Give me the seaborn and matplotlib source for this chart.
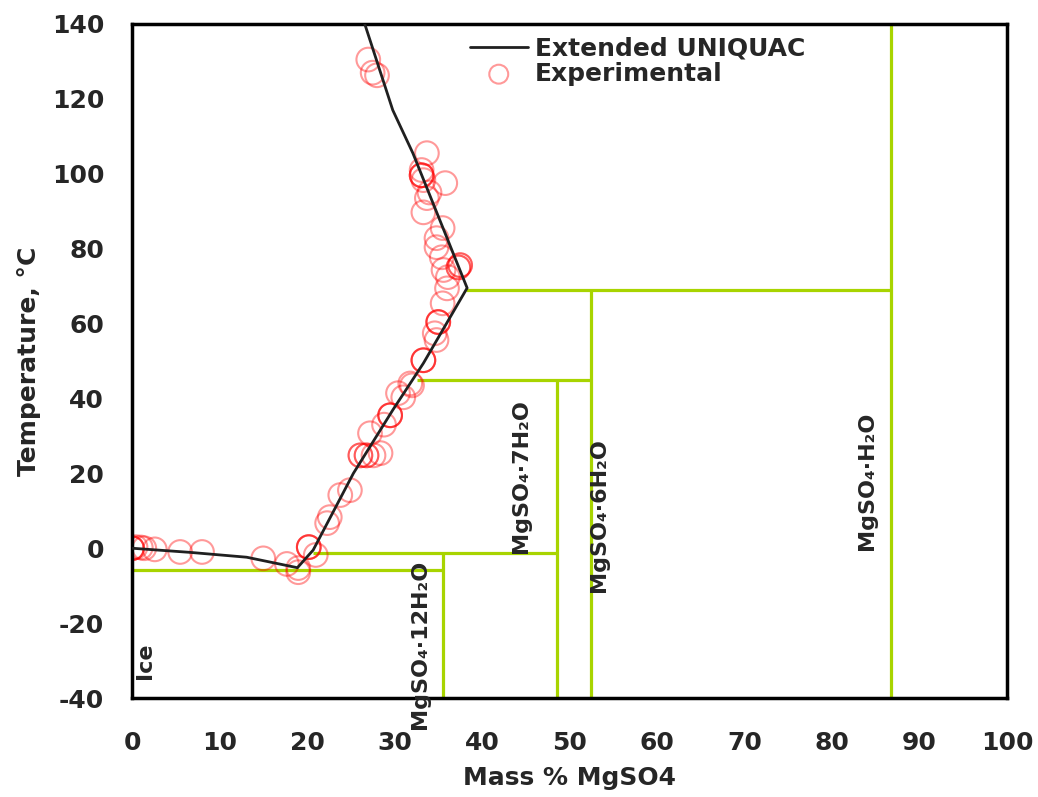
import numpy as np
import pandas as pd
import matplotlib
matplotlib.use('Agg')
import matplotlib.pyplot as plt
import seaborn as sns

sns.set_style('white')
plt.rcParams['font.family'] = ['DejaVu Sans']
plt.rcParams['font.weight'] = 'bold'
plt.rcParams['font.size'] = 18
plt.rcParams['axes.unicode_minus'] = False

# modelo Extended UNIQUAC
line_x = [0, 6.6, 13.1, 18.9, 20.7, 25.3, 29.8, 33.3, 38.3, 32.1, 29.8, 26.6]
line_y = [0, -1.1, -2.4, -5.2, -0.5, 20, 36.9, 49.4, 69.5, 105.5, 117, 140]

# datos experimentales (algunos repetidos)
exp_x = [0, 0, 0, 0.4, 1.0, 1.4, 2.6, 5.5, 8.0, 15.0, 17.7, 19.0, 19.0,
         20.2, 20.2, 20.2, 21.0, 22.3, 22.6, 23.8, 24.9, 26.1, 26.1, 26.8, 26.8,
         27.6, 28.4, 27.2, 28.8, 29.5, 29.5, 29.5, 30.4, 31.0, 32.0, 31.8,
         33.3, 33.3, 33.3, 34.8, 34.6, 35.0, 35.0, 35.0, 35.5, 36.0, 36.1, 35.6,
         37.3, 37.3, 37.5, 37.5, 35.4, 34.8, 34.8, 35.5, 33.3, 33.7, 34.0, 35.8,
         33.3, 33.1, 33.1, 33.1, 33.1, 33.7, 27.0, 27.5, 28.0]
exp_y = [0, 0, 0, 0.3, 0.2, 0, -0.3, -1.0, -1.0, -2.7, -4.2, -5.3, -6.4,
         0.3, 0.3, 0.3, -1.8, 6.7, 8.3, 14.2, 15.5, 24.8, 24.8, 24.8, 24.8,
         24.8, 25.4, 30.7, 33.0, 35.5, 35.5, 35.5, 41.4, 40.3, 43.5, 44.0,
         50.2, 50.2, 50.2, 55.6, 57.4, 60.4, 60.4, 60.4, 65.4, 69.4, 72.4, 74.3,
         75.0, 75.0, 75.6, 75.6, 77.7, 80.4, 82.8, 85.5, 89.7, 93.5, 95.0, 97.5,
         98.3, 99.6, 99.6, 99.6, 101.0, 105.5, 130.5, 127.0, 126.3]

# limites de fases
h_T = [-5.7, -1.4, 45, 69]
h_x0 = [0, 20.7, 32.6, 38.2]
h_x1 = [35.5, 48.6, 52.5, 86.7]
v_x = [35.5, 48.6, 52.5, 86.7]
v_top = [-1.4, 45, 69, 140]

labels = ['Ice', 'MgSO₄·12H₂O', 'MgSO₄·7H₂O', 'MgSO₄·6H₂O', 'MgSO₄·H₂O']
lab_x = [1.5, 32.9, 44.5, 53.4, 84.0]
lab_y = [-30, -25.6, 19.3, 8.8, 17.9]

model = pd.DataFrame({'x': line_x, 'T': line_y})
exp = pd.DataFrame({'x': exp_x, 'T': exp_y})

fig = plt.figure(figsize=(10.38, 7.97), dpi=100)
ax = fig.add_axes([0.1272, 0.1242, 0.8429, 0.8457])

green = '#a8d400'
ax.hlines(h_T, h_x0, h_x1, color=green, lw=2.3, zorder=1)
ax.vlines(v_x, -40, v_top, color=green, lw=2.3, zorder=1)

sns.lineplot(data=model, x='x', y='T', sort=False, estimator=None,
             color='#202020', lw=2, label='Extended UNIQUAC', ax=ax, zorder=3)
sns.scatterplot(data=exp, x='x', y='T', marker='o', s=290, facecolors='none',
                edgecolor=(1, 0, 0, 0.4), linewidth=1.5, label='Experimental',
                ax=ax, zorder=2)

for t, x, y in zip(labels, lab_x, lab_y):
    ax.text(x, y, t, rotation=90, ha='center', va='center', fontsize=16,
            fontweight='bold')

ax.set_xlim(0, 100)
ax.set_ylim(-40, 140)
ax.set_xticks(np.arange(0, 101, 10))
ax.set_yticks(np.arange(-40, 141, 20))
ax.tick_params(length=0)
ax.tick_params(axis='x', pad=24)
ax.tick_params(axis='y', pad=20)
ax.set_xlabel('Mass % MgSO4', fontweight='bold', labelpad=8)
ax.set_ylabel('Temperature, °C', fontweight='bold', labelpad=8)
for sp in ax.spines.values():
    sp.set_color('black')
    sp.set_linewidth(2.5)

h, l = ax.get_legend_handles_labels()
ax.legend(h, l, loc='upper left', bbox_to_anchor=(0.372, 1.0), frameon=False,
          handlelength=2.3, handletextpad=0.3, labelspacing=0.05, borderpad=0,
          markerscale=0.8, prop={'weight': 'bold', 'size': 18})

fig.savefig('out.png', dpi=100)
